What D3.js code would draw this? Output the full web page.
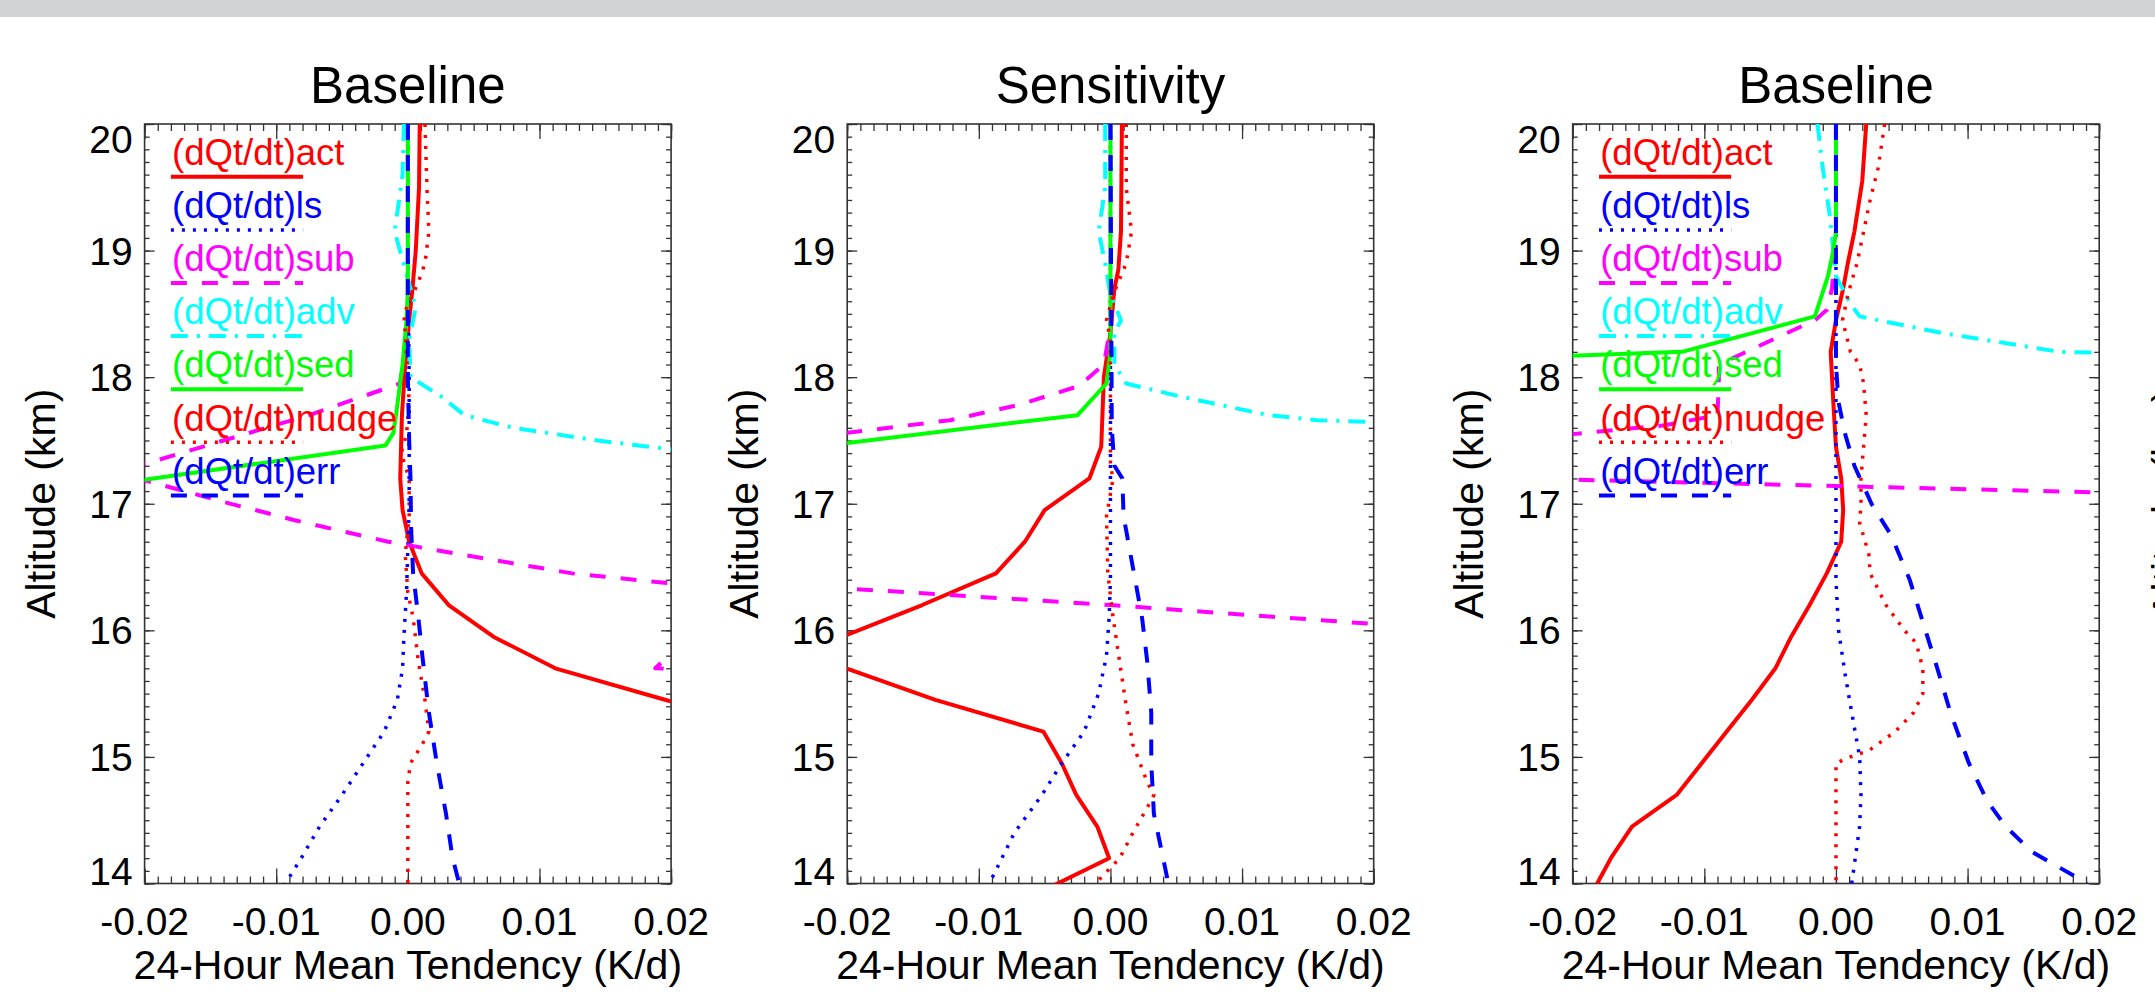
<!DOCTYPE html>
<html>
<head>
<meta charset="utf-8">
<script src="https://cdn.jsdelivr.net/npm/d3@7"></script>
<style>
  html, body { margin: 0; padding: 0; background: #fff; }
  svg { display: block; font-family: "Liberation Sans", Arial, Helvetica, sans-serif; }
</style>
</head>
<body>
<svg id="chart" width="2155" height="993"></svg>
<script>
// ---- data: [altitude (km), tendency (K/d)] ----
const xTicks = [-0.02, -0.01, 0, 0.01, 0.02];
const yTicks = [14, 15, 16, 17, 18, 19, 20];
const panelTitles = ["Baseline", "Sensitivity", "Baseline"];
const seriesNames = ["act", "ls", "sub", "adv", "sed", "nudge", "err"];

// panel 1 - Baseline
const b1Act = [[20,0.0009],[19.5,0.00085],[19,0.0006],[18.7,0.00035],[18.45,0.0001],[18.1,-0.0002],[17.7,-0.00045],[17.2,-0.00058],[16.95,-0.0004],[16.7,0.0001],[16.45,0.00105],[16.2,0.0031],[15.95,0.0065],[15.7,0.0112],[15.45,0.0196],[15.2,0.028]];
const b1Ls = [[20,0],[19,0],[18,0.0001],[17,0.0001],[16.3,-0.0001],[15.95,-0.0003],[15.7,-0.0004],[15.45,-0.0008],[15.2,-0.0018],[14.95,-0.0034],[14.7,-0.005],[14.45,-0.0067],[14.2,-0.0081],[13.95,-0.0096]];
const b1Sub = [[20,0],[19,0],[18.5,0],[18.2,-0.0002],[17.95,-0.0006],[17.7,-0.0075],[17.5,-0.014],[17.32,-0.0198],[17.25,-0.025],[17.18,-0.0198],[17.02,-0.0142],[16.87,-0.0086],[16.7,-0.0015],[16.6,0.004],[16.45,0.0125],[16.37,0.02],[16.2,0.03],[15.95,0.0213],[15.7,0.0188],[15.45,0.1]];
const b1Adv = [[20,-0.0003],[19.6,-0.0004],[19.15,-0.001],[18.7,0.0002],[18.55,0.0006],[18.3,0.0001],[18.0,0.0002],[17.85,0.0025],[17.7,0.0043],[17.6,0.008],[17.5,0.0144],[17.43,0.02],[17.3,0.03]];
const b1Sed = [[20,0],[19,0],[18.7,0],[18.45,-0.0001],[18.1,-0.0004],[17.7,-0.0009],[17.56,-0.0011],[17.46,-0.0017],[17.19,-0.02],[17.0,-0.033]];
const b1Nudge = [[20,0.0013],[19.5,0.00145],[19.15,0.0016],[18.9,0.0013],[18.75,0.0008],[18.5,-0.0003],[18.2,-0.0001],[17.8,0.0001],[17.55,-0.0001],[17.4,-0.0005],[17.2,0.0001],[16.9,0.0001],[16.6,-0.0002],[16.3,0],[16.1,0.0004],[15.75,0.0008],[15.45,0.0013],[15.2,0.0016],[15.1,0.0011],[14.95,0.0002],[14.8,0],[14.0,0]];
const b1Err = [[20,0],[18,0],[17.5,0.0001],[17.2,0.0002],[16.8,0.00025],[16.45,0.0004],[16.1,0.0008],[15.8,0.0011],[15.35,0.0016],[14.95,0.0022],[14.55,0.0029],[14.2,0.0034],[14.0,0.0039]];

// panel 2 - Sensitivity
const s2Act = [[20,0.00087],[19.15,0.0008],[18.85,0.0006],[18.7,0.0003],[18.35,0],[18.0,-0.0005],[17.45,-0.0007],[17.2,-0.0016],[16.95,-0.005],[16.7,-0.0065],[16.45,-0.0087],[16.2,-0.0143],[15.96,-0.0201],[15.83,-0.04],[15.7,-0.0201],[15.45,-0.0133],[15.2,-0.0051],[14.95,-0.0037],[14.7,-0.0026],[14.45,-0.001],[14.2,-0.0001],[13.95,-0.005]];
const s2Ls = [[20,0],[17,0],[16.4,0],[16.1,-0.0001],[15.8,-0.0003],[15.5,-0.0009],[15.2,-0.002],[14.95,-0.0037],[14.7,-0.0052],[14.4,-0.0073],[14.0,-0.0092]];
const s2Sub = [[20,0],[18.4,0],[18.1,-0.0005],[17.93,-0.0024],[17.78,-0.007],[17.66,-0.0122],[17.56,-0.02],[16.95,-0.08],[16.33,-0.02],[16.2,0],[16.05,0.02],[15.9,0.04]];
const s2Adv = [[20,-0.0004],[19.5,-0.0004],[19.15,-0.0009],[18.9,-0.0004],[18.65,0],[18.45,0.0008],[18.35,0.0003],[18.1,0.0003],[17.95,0.0012],[17.85,0.0052],[17.7,0.012],[17.66,0.0157],[17.64,0.022]];
const s2Sed = [[20,0],[18.2,0],[17.95,-0.0003],[17.7,-0.0025],[17.48,-0.02],[17.3,-0.035]];
const s2Nudge = [[20,0.0012],[19.5,0.0012],[19.15,0.0016],[18.9,0.0012],[18.65,0.0002],[18.45,-0.0003],[18.3,0],[17.3,0],[17.2,0.0002],[16.9,-0.0003],[16.45,-0.0002],[16.1,0.0002],[15.75,0.0007],[15.4,0.0012],[15.1,0.0017],[14.8,0.0028],[14.7,0.0033],[14.6,0.0028],[14.4,0.0017],[14.2,0.0007],[13.95,-0.0016]];
const s2Err = [[20,0],[17.6,0.0001],[17.3,0.0003],[17.2,0.0009],[16.9,0.001],[16.5,0.0017],[16.1,0.0024],[15.75,0.0028],[15.35,0.0031],[14.95,0.0031],[14.55,0.0033],[14.3,0.0038],[14.0,0.0044]];

// panel 3 - Baseline
const b3Act = [[20,0.0023],[19.55,0.002],[19.15,0.0014],[18.9,0.0009],[18.7,0.00055],[18.45,0],[18.2,-0.0004],[17.8,-0.0002],[17.45,0],[17.2,0.0004],[16.95,0.00055],[16.7,0.0004],[16.45,-0.0007],[16.2,-0.002],[15.95,-0.0034],[15.7,-0.0046],[15.45,-0.0064],[15.2,-0.0083],[14.95,-0.0102],[14.7,-0.0121],[14.45,-0.0155],[14.2,-0.0171],[13.95,-0.0184]];
const b3Ls = [[20,0],[17,0],[16.4,0],[16.0,0.0002],[15.65,0.0007],[15.35,0.0012],[15.0,0.0018],[14.7,0.0019],[14.45,0.0018],[14.0,0.0012]];
const b3Sub = [[20,0],[19.15,0],[18.7,-0.0003],[18.53,-0.0007],[18.45,-0.0016],[18.1,-0.0089],[17.95,-0.0089],[17.7,-0.009],[17.62,-0.013],[17.55,-0.02],[17.4,-0.05],[17.19,-0.02],[17.14,0],[17.09,0.02],[17.0,0.04]];
const b3Adv = [[20,-0.0014],[19.65,-0.001],[19.3,-0.0005],[19.0,-0.0002],[18.8,0],[18.7,0.0005],[18.58,0.0011],[18.48,0.0018],[18.35,0.008],[18.2,0.017],[18.18,0.025]];
const b3Sed = [[20,0],[19.15,0],[19.0,-0.0002],[18.8,-0.0006],[18.48,-0.0016],[18.2,-0.0117],[17.95,-0.08]];
const b3Nudge = [[20,0.0037],[19.65,0.0032],[19.4,0.0026],[19.15,0.0021],[18.9,0.0016],[18.65,0.0009],[18.45,0.0005],[18.2,0.0011],[18.1,0.0018],[17.95,0.0021],[17.7,0.0023],[17.45,0.0021],[17.2,0.0019],[17.0,0.0019],[16.85,0.0018],[16.6,0.0025],[16.45,0.0026],[16.2,0.0038],[16.0,0.0052],[15.9,0.0061],[15.7,0.0066],[15.5,0.0066],[15.35,0.0059],[15.2,0.0045],[15.05,0.0025],[15.0,0.0011],[14.95,0],[14.0,0]];
const b3Err = [[20,0],[18.1,0],[17.8,0.0002],[17.55,0.0007],[17.3,0.0014],[17.0,0.0027],[16.75,0.0042],[16.4,0.0056],[16.0,0.0068],[15.7,0.0077],[15.35,0.0087],[14.95,0.0101],[14.65,0.0115],[14.45,0.0129],[14.25,0.0149],[14.0,0.0191]];

const panelSeries = [
    [b1Act, b1Ls, b1Sub, b1Adv, b1Sed, b1Nudge, b1Err],
    [s2Act, s2Ls, s2Sub, s2Adv, s2Sed, s2Nudge, s2Err],
    [b3Act, b3Ls, b3Sub, b3Adv, b3Sed, b3Nudge, b3Err]
];
const panelLegend = [true, false, true];

// ---- styles (IDL linestyles 0..3) ----
const lineColors = ["#ff0000", "#0000ff", "#ff00ff", "#00ffff", "#00ff00", "#ff0000", "#0000ff"];
const lineDash = [null, "3,8", "16,15", "17,9,3,9", null, "3,8", "16,15"];
const lineWidth = [4, 3.5, 4, 4, 4, 3.5, 4];
const axisColor = "#333";

// ---- layout ----
const plotLefts = [144.6, 847.2, 1572.7];
const plotW = 526.5, plotTop = 124, plotBottom = 883.5;

const svg = d3.select("#chart");

svg.append("rect")
    .attr("x", 0).attr("y", 0)
    .attr("width", 2155).attr("height", 17)
    .attr("fill", "#d1d2d4");

const tickFmt = d => d.toFixed(2);
const xMinor = d3.range(-20, 21).map(i => i / 1000);
const yMinor = d3.range(140, 201).map(i => i / 10);

function cleanTicks(g) {
    g.select(".domain").remove();
    g.selectAll("text").remove();
    g.selectAll("line").attr("stroke", axisColor).attr("stroke-width", 1.3);
}

panelTitles.forEach((title, p) => {
    const left = plotLefts[p], right = left + plotW;
    const x = d3.scaleLinear().domain([-0.02, 0.02]).range([left, right]);
    const y = d3.scaleLinear().domain([14, 20]).range([plotBottom, plotTop]);

    const g = svg.append("g").attr("class", "panel");

    // title
    g.append("text")
        .attr("x", (left + right) / 2).attr("y", 103)
        .attr("text-anchor", "middle")
        .attr("font-size", 51)
        .text(title);

    // tick marks on all four sides
    g.append("g").attr("transform", `translate(0,${plotBottom})`)
        .call(d3.axisTop(x).tickValues(xMinor).tickSize(7)).call(cleanTicks);
    g.append("g").attr("transform", `translate(0,${plotBottom})`)
        .call(d3.axisTop(x).tickValues(xTicks).tickSize(15)).call(cleanTicks);
    g.append("g").attr("transform", `translate(0,${plotTop})`)
        .call(d3.axisBottom(x).tickValues(xMinor).tickSize(7)).call(cleanTicks);
    g.append("g").attr("transform", `translate(0,${plotTop})`)
        .call(d3.axisBottom(x).tickValues(xTicks).tickSize(15)).call(cleanTicks);
    g.append("g").attr("transform", `translate(${left},0)`)
        .call(d3.axisRight(y).tickValues(yMinor).tickSize(5)).call(cleanTicks);
    g.append("g").attr("transform", `translate(${left},0)`)
        .call(d3.axisRight(y).tickValues(yTicks).tickSize(10)).call(cleanTicks);
    g.append("g").attr("transform", `translate(${right},0)`)
        .call(d3.axisLeft(y).tickValues(yMinor).tickSize(5)).call(cleanTicks);
    g.append("g").attr("transform", `translate(${right},0)`)
        .call(d3.axisLeft(y).tickValues(yTicks).tickSize(10)).call(cleanTicks);

    g.append("rect")
        .attr("x", left).attr("y", plotTop)
        .attr("width", plotW).attr("height", plotBottom - plotTop)
        .attr("fill", "none").attr("stroke", axisColor).attr("stroke-width", 1.6);

    // tick labels
    const fs = 39;
    g.selectAll(".xlab").data(xTicks).enter().append("text")
        .attr("x", d => x(d)).attr("y", 935)
        .attr("text-anchor", "middle").attr("font-size", fs)
        .text(tickFmt);
    g.selectAll(".ylab").data(yTicks).enter().append("text")
        .attr("x", left - 12)
        .attr("y", d => {
            if (d === 20) return y(d) + 0.716 * fs + 1;
            if (d === 14) return y(d) + 1;
            return y(d) + 0.358 * fs;
        })
        .attr("text-anchor", "end").attr("font-size", fs)
        .text(d => d);

    // axis titles
    g.append("text")
        .attr("x", (left + right) / 2).attr("y", 979)
        .attr("text-anchor", "middle").attr("font-size", 41)
        .text("24-Hour Mean Tendency (K/d)");
    g.append("text")
        .attr("transform", `translate(${left - 89.6},${(plotTop + plotBottom) / 2}) rotate(-90)`)
        .attr("text-anchor", "middle").attr("font-size", 41)
        .text("Altitude (km)");

    // curves
    const clipId = "clip" + p;
    svg.append("clipPath").attr("id", clipId)
        .append("rect")
        .attr("x", left).attr("y", plotTop)
        .attr("width", plotW).attr("height", plotBottom - plotTop);

    const line = d3.line().x(d => x(d[1])).y(d => y(d[0]));
    g.append("g").attr("clip-path", `url(#${clipId})`)
        .selectAll("path")
        .data(panelSeries[p])
        .enter().append("path")
        .attr("d", line)
        .attr("fill", "none")
        .attr("stroke", (d, i) => lineColors[i])
        .attr("stroke-width", (d, i) => lineWidth[i])
        .attr("stroke-dasharray", (d, i) => lineDash[i])
        .attr("stroke-linejoin", "round");

    // legend
    if (panelLegend[p]) {
        const lg = g.append("g").attr("class", "legend");
        seriesNames.forEach((name, i) => {
            const by = 165 + i * 53.1;
            lg.append("text")
                .attr("x", left + 27.5).attr("y", by)
                .attr("font-size", 36.5)
                .attr("fill", lineColors[i])
                .text("(dQt/dt)" + name);
            lg.append("line")
                .attr("x1", left + 26.3).attr("x2", left + 158.5)
                .attr("y1", by + 11.8).attr("y2", by + 11.8)
                .attr("stroke", lineColors[i])
                .attr("stroke-width", lineWidth[i])
                .attr("stroke-dasharray", lineDash[i]);
        });
    }
});

// y title of the next (cut off) panel, only its tips reach the right edge
svg.append("text")
    .attr("transform", `translate(2181,${(plotTop + plotBottom) / 2}) rotate(-90)`)
    .attr("text-anchor", "middle").attr("font-size", 41)
    .text("Altitude (km)");
</script>
</body>
</html>
